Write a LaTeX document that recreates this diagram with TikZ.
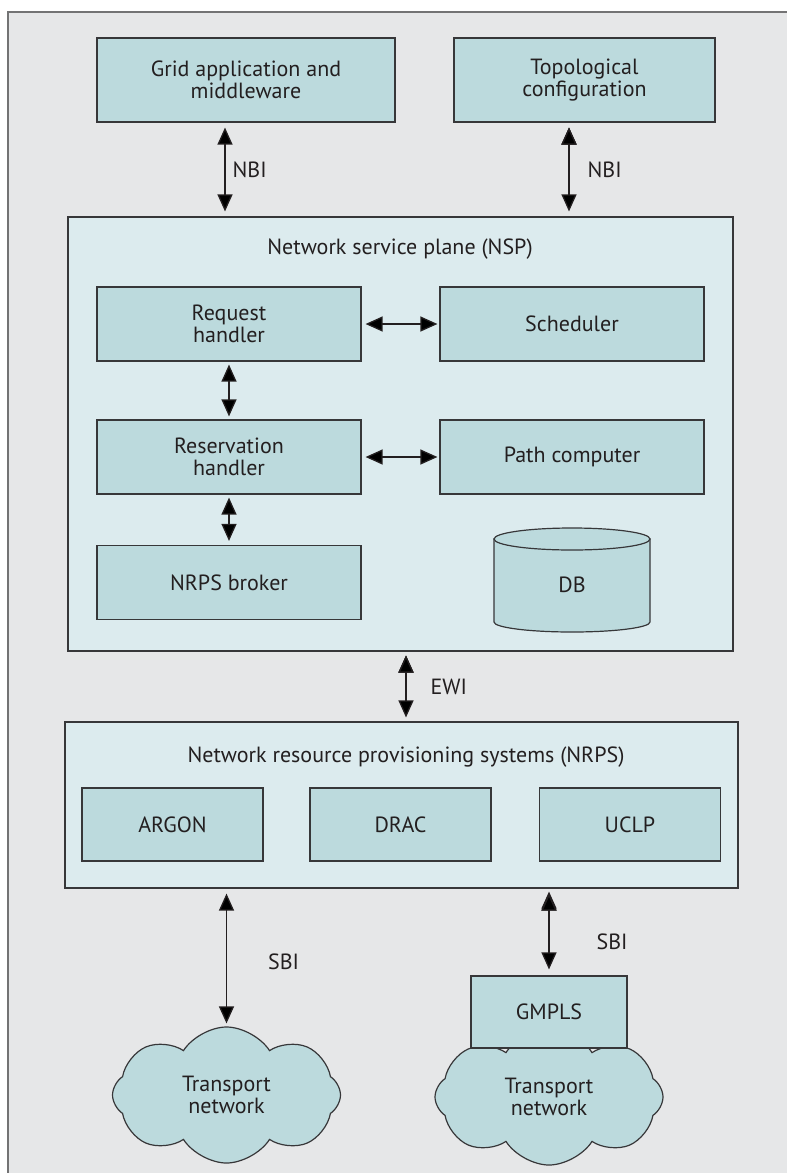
\documentclass[tikz,border=0pt]{standalone}
\usepackage{fontspec}
\setmainfont{PT Sans}
\usetikzlibrary{arrows.meta,shapes.symbols}
\definecolor{bggray}{RGB}{230,231,232}
\definecolor{planefill}{RGB}{220,235,238}
\definecolor{boxfill}{RGB}{188,218,221}
\definecolor{ink}{RGB}{35,31,32}
\definecolor{rim}{RGB}{55,55,57}

\begin{document}
\begin{tikzpicture}[x=0.5pt,y=-0.5pt,font=\fontsize{11}{11}\selectfont,text=ink,
  every node/.style={align=center,inner sep=0pt},
  box/.style={draw=rim,line width=0.6pt,fill=boxfill,minimum width=132pt,minimum height=37pt},
  plane/.style={draw=rim,line width=0.6pt,fill=planefill},
  net/.style={cloud,cloud puffs=8,cloud puff arc=115,aspect=1.7,draw=rim,line width=0.6pt,
    fill=boxfill,minimum width=114pt,minimum height=68pt},
  arr/.style={{Triangle[length=8.5pt,width=7.5pt]}-{Triangle[length=8.5pt,width=7.5pt]},
    draw=ink,line width=0.65pt,shorten <=1.5pt,shorten >=1.5pt},
  lbl/.style={anchor=west}]

\useasboundingbox (0,0) rectangle (787,1173);
\fill[bggray] (8,12) rectangle (787,1173);
\draw[rim!70,line width=0.8pt] (787,12) -- (8,12) -- (8,1173);

\node[box,minimum width=149pt,minimum height=42pt] (grid) at (246,80) {Grid application and\\middleware};
\node[box,minimum width=130.5pt,minimum height=42pt] (topo) at (584.5,80) {Topological\\configuration};

\node[plane,minimum width=332.5pt,minimum height=217pt] (nsp) at (400.5,434) {};
\node (nsptitle) at (400,249) {Network service plane (NSP)};
\node[box] (req) at (229,324) {Request\\handler};
\node[box] (sched) at (572,324) {Scheduler};
\node[box] (resv) at (229,457) {Reservation\\handler};
\node[box] (pathc) at (572,457) {Path computer};
\node[box] (broker) at (229,582.5) {NRPS broker};

\path[draw=rim,line width=0.6pt,fill=boxfill] (494,539) -- (494,622)
  arc[start angle=180,end angle=360,x radius=39pt,y radius=5pt] -- (650,539) -- cycle;
\path[draw=rim,line width=0.6pt,fill=boxfill] (572,539) ellipse[x radius=39pt,y radius=5.5pt];
\node (db) at (572,585) {DB};

\node[plane,minimum width=336.5pt,minimum height=83pt] (nrps) at (401.5,805) {};
\node (nrpstitle) at (406,757) {Network resource provisioning systems (NRPS)};
\node[box,minimum width=90.5pt,minimum height=36.5pt] (argon) at (172.5,824.5) {ARGON};
\node[box,minimum width=90.5pt,minimum height=36.5pt] (drac) at (400.5,824.5) {DRAC};
\node[box,minimum width=90.5pt,minimum height=36.5pt] (uclp) at (630,824.5) {UCLP};

\node[net] (netL) at (226.5,1095) {Transport\\network};
\node[net] (netR) at (549,1097) {Transport\\network};
\node[box,minimum width=78pt,minimum height=36pt] (gmpls) at (549,1012) {GMPLS};

\path[arr,shorten <=2.5pt,shorten >=2.5pt]
  ([xshift=-10.5pt]grid.south) edge node[lbl,xshift=3.5pt] {NBI} ([xshift=-10.5pt]grid.south |- nsp.north)
  ([xshift=-7.75pt]topo.south) edge node[lbl,xshift=9pt] {NBI} ([xshift=-7.75pt]topo.south |- nsp.north);
\path[arr]
  (req) edge[shorten <=2pt,shorten >=1pt] (sched)
  (resv) edge[shorten <=2pt,shorten >=1pt] (pathc)
  (req) edge (resv)
  (resv) edge[shorten >=2pt] (broker);
\path[arr,shorten <=2pt,shorten >=2pt]
  ([xshift=2.75pt]nsp.south) edge node[lbl,xshift=12pt] {EWI} ([xshift=2.75pt]nsp.south |- nrps.north);
\path[arr,shorten <=2.5pt]
  (netL.north |- nrps.south) edge node[lbl,xshift=20.5pt,yshift=-2pt] {SBI} (netL.north)
  (gmpls.north |- nrps.south) edge[shorten >=3pt] node[lbl,xshift=23.5pt,yshift=-5pt] {SBI} (gmpls.north);

\end{tikzpicture}
\end{document}
